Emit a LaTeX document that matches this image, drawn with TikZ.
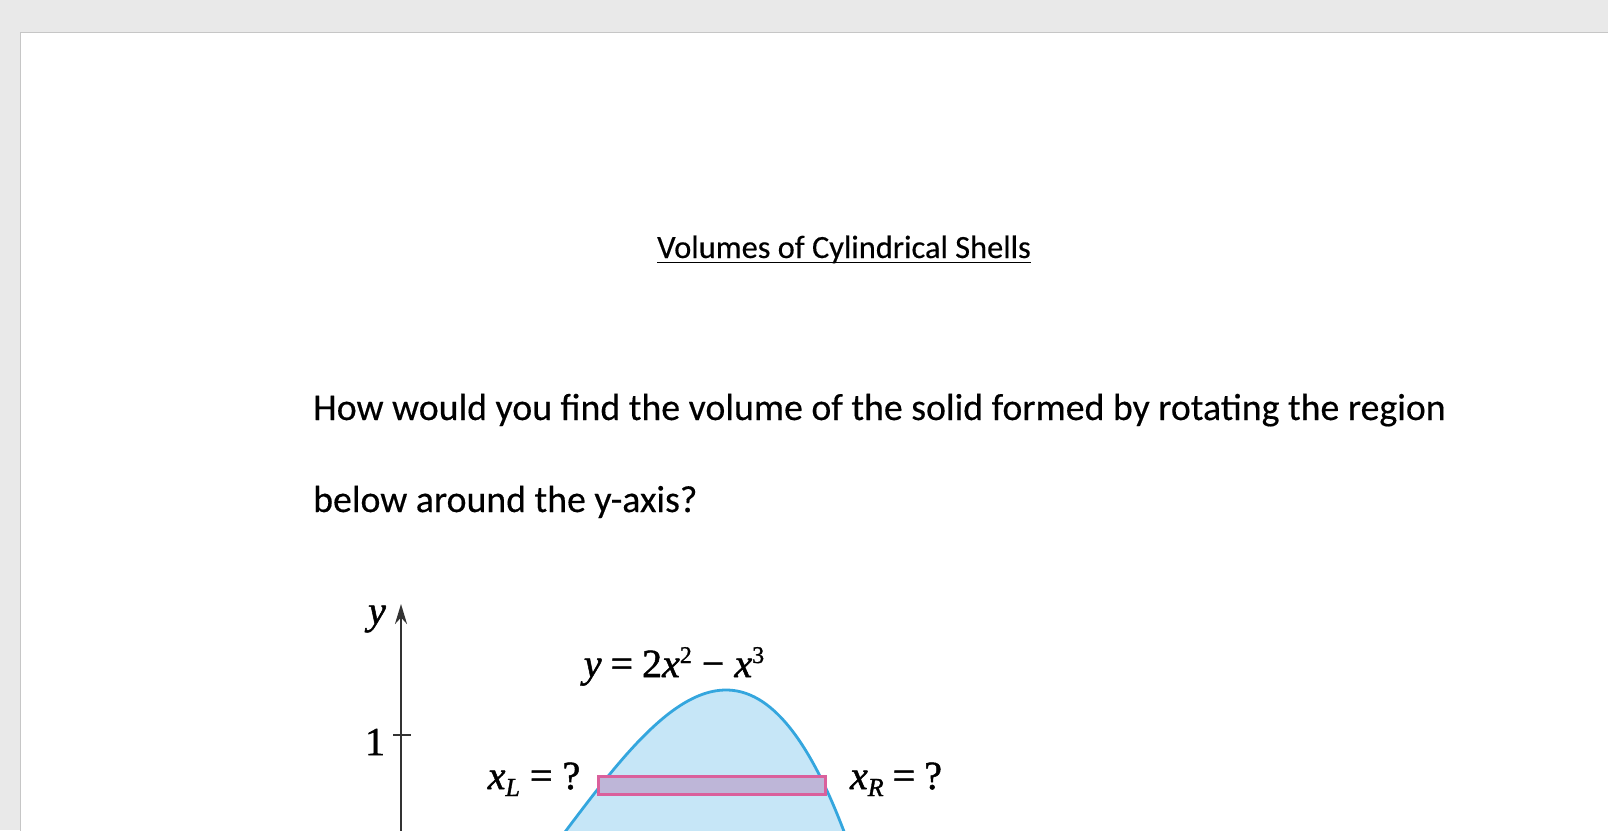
\documentclass[tikz,border=0pt]{standalone}
\usepackage{fontspec}
\setmainfont{Carlito}[FakeBold=0.35]
\newfontfamily\figrm{Liberation Serif}[FakeBold=1.2]
\newfontfamily\figit{Liberation Serif Italic}[FakeBold=1.2]
\usetikzlibrary{arrows.meta}

\definecolor{deskgray}{HTML}{E9E9E9}
\definecolor{edgegray}{HTML}{C6C6C6}
\definecolor{regionblue}{RGB}{198,230,247}
\definecolor{curveblue}{RGB}{52,166,222}
\definecolor{stripred}{RGB}{218,96,156}
\definecolor{stripfill}{RGB}{190,182,216}

\newcommand{\supdigit}[1]{\raisebox{14pt}{\figrm\fontsize{24}{28}\selectfont #1}}
\newcommand{\subletter}[1]{\raisebox{-7pt}{\figit\fontsize{26}{30}\selectfont #1}}

\tikzset{
	bodytext/.style={anchor=base west, inner sep=0pt, font=\fontsize{37.8}{44}\selectfont},
	headtext/.style={anchor=base west, inner sep=0pt, font=\fontsize{32.4}{38}\selectfont},
	figlabel/.style={inner sep=0pt, font=\fontsize{40}{46}\figrm},
	axisline/.style={line width=2.4pt, draw=black!80, -{Stealth[length=20pt,width=12pt]}},
}

\begin{document}
\begin{tikzpicture}[x=1pt,y=-1pt]
			\useasboundingbox (0,0) rectangle (1608,830);
			\clip (0,0) rectangle (1608,830);
			% page on the desk
			\fill[deskgray] (0,0) rectangle (1608,830);
			\filldraw[fill=white, draw=edgegray, line width=1pt] (20,32) rectangle (1620,850);

			% heading and question
			\node[headtext] (title) at (657,258) {Volumes of Cylindrical Shells};
			\draw[line width=1.8pt] ([yshift=-4.5pt]title.base west) -- ([yshift=-4.5pt]title.base east);
			\node[bodytext] (lineone) at (313,420) {How would you find the volume of the solid formed by rotating the region};
			\node[bodytext] (linetwo) at (313,512) {below around the y-axis?};

			% the region under y = 2x^2 - x^3
			\begin{scope}[shift={(401,978)}, x=243.75pt, y=243pt]
				\fill[regionblue] (0,0) -- plot[domain=0:2, samples=80, smooth] (\x,{2*\x*\x-\x*\x*\x}) -- cycle;
				\draw[curveblue, line width=2.8pt] plot[domain=0.4:1.95, samples=80, smooth] (\x,{2*\x*\x-\x*\x*\x});
			\end{scope}
			\filldraw[fill=stripfill, draw=stripred, line width=3pt] (598,776) rectangle (825,794);

			% axis
			\coordinate (axisfoot) at (401,840);
			\coordinate (axistop) at (401,604);
			\draw[axisline] (axisfoot) -- (axistop);
			\coordinate (tickleft) at (393,735);
			\coordinate (tickright) at (411,735);
			\draw[line width=1.4pt, black!80] (tickleft) -- (tickright);

			% labels
			\node[figlabel] (ylabel) at (377,619) {\figit y};
			\node[figlabel] (onelabel) at (375,742) {1};
			\node[figlabel, anchor=base] (curvelabel) at (674,677) {{\figit y}\hspace{9pt}=\hspace{9pt}2{\figit x}\supdigit{2}\hspace{10pt}−\hspace{10pt}{\figit x}\supdigit{3}};
			\node[figlabel, anchor=base] (xleft) at (534,789) {{\figit x}\subletter{L}\hspace{10pt}=\hspace{10pt}?};
			\node[figlabel, anchor=base] (xright) at (896,789) {{\figit x}\subletter{R}\hspace{9pt}=\hspace{9pt}?};
		\end{tikzpicture}
\end{document}
